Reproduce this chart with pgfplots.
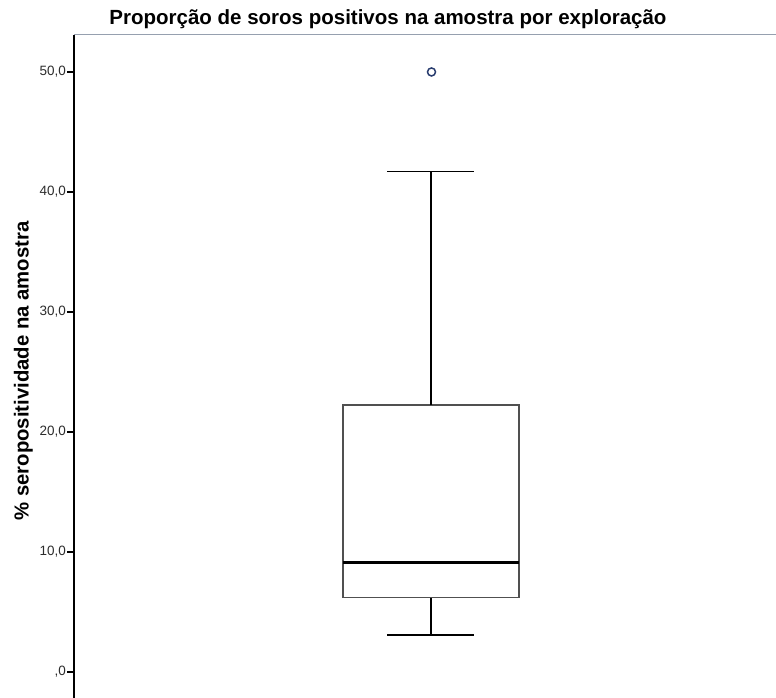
\documentclass[border=0pt]{standalone}
\usepackage{pgfplots}
\pgfplotsset{compat=1.18}
\usepackage{fontspec}
\setmainfont{Liberation Sans}
\definecolor{framegray}{RGB}{150,160,175}
\definecolor{ticktext}{RGB}{45,45,45}
\definecolor{boxgray}{RGB}{80,80,80}
\definecolor{outl}{RGB}{40,60,110}
\begin{document}
\begin{tikzpicture}
\useasboundingbox (0pt,0pt) rectangle (776pt,-698pt);
\begin{axis}[
  at={(74pt,-35pt)}, anchor=north west,
  scale only axis, width=702pt, height=663pt,
  xmin=0, xmax=702,
  ymin=-2.17, ymax=53.08,
  axis line style={draw=none},
  xtick=\empty,
  ytick={0,10,20,30,40,50},
  yticklabels={{,0},{10,0},{20,0},{30,0},{40,0},{50,0}},
  ytick pos=left, tick align=outside,
  major tick length=7pt,
  tick style={black, line width=1.1pt},
  yticklabel style={font=\fontsize{13.5}{15}\selectfont, text=ticktext, inner xsep=0pt, xshift=-1pt},
  clip=false,
]
% box (Q1 = 6.2, Q3 = 22.25)
\addplot[draw=boxgray, line width=1.1pt, mark=none] coordinates {(269,6.2) (445,6.2) (445,22.25) (269,22.25) (269,6.2)};
% median
\addplot[draw=black, line width=2.6pt, mark=none] coordinates {(269,9.1) (445,9.1)};
% lower whisker
\addplot[draw=black, line width=1.8pt, mark=none] coordinates {(357,3.1) (357,6.2)};
\addplot[draw=black, line width=1.8pt, mark=none] coordinates {(313,3.1) (400,3.1)};
% upper whisker
\addplot[draw=black, line width=1.8pt, mark=none] coordinates {(357,22.25) (357,41.7)};
\addplot[draw=black, line width=1.8pt, mark=none] coordinates {(313,41.7) (400,41.7)};
% outlier
\addplot[only marks, mark=o, mark size=4pt, mark options={draw=outl, line width=1.5pt, fill=none}] coordinates {(357.5,50)};
\draw[black, line width=1.2pt] (rel axis cs:0,0) -- (rel axis cs:0,1);
\draw[framegray, line width=1pt] (rel axis cs:0,1) -- (rel axis cs:1,1);
\end{axis}
\node[font=\bfseries\fontsize{20.3}{23}\selectfont, rotate=90, anchor=center] at (23.5pt,-371pt) {\% seropositividade na amostra};
\node[font=\bfseries\fontsize{20.5}{23}\selectfont, anchor=center] at (388pt,-19pt) {Proporção de soros positivos na amostra por exploração};
\end{tikzpicture}
\end{document}
